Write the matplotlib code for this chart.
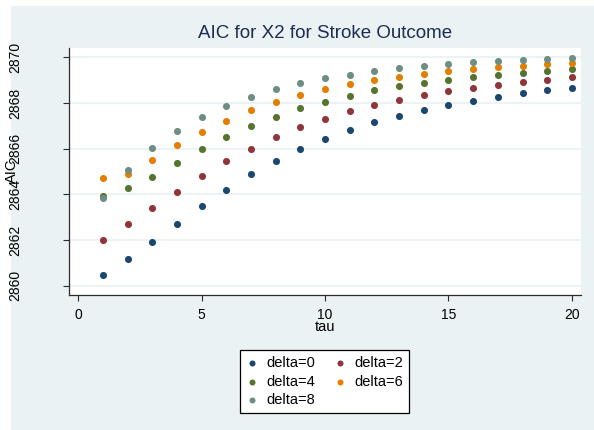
import matplotlib
matplotlib.use("Agg")
import matplotlib.pyplot as plt
from matplotlib.patches import Rectangle

plt.rcParams['font.family'] = ['Liberation Sans', 'DejaVu Sans']

# datos
tau = list(range(1, 21))
deltas = ['delta=0', 'delta=2', 'delta=4', 'delta=6', 'delta=8']
aic_d0 = [2860.47, 2861.18, 2861.91, 2862.71, 2863.49, 2864.20, 2864.88, 2865.46, 2866.00, 2866.44,
          2866.82, 2867.17, 2867.43, 2867.69, 2867.91, 2868.09, 2868.26, 2868.42, 2868.55, 2868.64]
aic_d2 = [2861.99, 2862.70, 2863.39, 2864.10, 2864.80, 2865.45, 2866.00, 2866.52, 2866.95, 2867.31,
          2867.65, 2867.91, 2868.13, 2868.34, 2868.51, 2868.66, 2868.80, 2868.90, 2869.02, 2869.12]
aic_d4 = [2863.91, 2864.26, 2864.77, 2865.37, 2865.97, 2866.51, 2866.99, 2867.40, 2867.77, 2868.06,
          2868.32, 2868.55, 2868.73, 2868.87, 2869.02, 2869.14, 2869.24, 2869.33, 2869.41, 2869.47]
aic_d6 = [2864.72, 2864.89, 2865.50, 2866.15, 2866.73, 2867.22, 2867.68, 2868.04, 2868.35, 2868.61,
          2868.83, 2869.01, 2869.15, 2869.27, 2869.40, 2869.49, 2869.56, 2869.63, 2869.70, 2869.76]
aic_d8 = [2863.85, 2865.08, 2866.03, 2866.79, 2867.37, 2867.87, 2868.26, 2868.60, 2868.86, 2869.09,
          2869.24, 2869.40, 2869.52, 2869.63, 2869.70, 2869.78, 2869.83, 2869.89, 2869.93, 2869.97]
series = [aic_d0, aic_d2, aic_d4, aic_d6, aic_d8]
colores = ['#1a476f', '#90353b', '#55752f', '#e37e00', '#6e8e84']
yticks = [2860, 2862, 2864, 2866, 2868, 2870]
xticks = [0, 5, 10, 15, 20]

fondo = '#eaf2f3'

fig = plt.figure(figsize=(5.94, 4.30), dpi=100, facecolor='white')
fig.patches.append(Rectangle((11 / 594, 0), 1 - 11 / 594, 1 - 6 / 430,
                             transform=fig.transFigure, facecolor=fondo,
                             edgecolor='none', zorder=-10))

ax = fig.add_axes([69 / 594, 1 - 294.7 / 430, 512 / 594, 247 / 430])
ax.set_zorder(2)
ax.set_facecolor('white')

handles = []
for vals, lab, c in zip(series, deltas, colores):
    h = ax.scatter(tau, vals, s=26, color=c, label=lab, zorder=3, linewidths=0)
    handles.append(h)

ax.set_xlim(-0.377, 20.37)
ax.set_ylim(2859.61, 2870.42)
ax.set_xticks(xticks)
ax.set_yticks(yticks)
ax.grid(axis='y', color=fondo, linewidth=1.3)
ax.set_axisbelow(True)

for s in ['top', 'right']:
    ax.spines[s].set_visible(False)
for s in ['left', 'bottom']:
    ax.spines[s].set_color('#2b2b2b')
    ax.spines[s].set_linewidth(0.9)

ax.tick_params(axis='x', length=4, width=0.8, color='#2b2b2b', pad=5.5, labelsize=10)
ax.tick_params(axis='y', length=4.5, width=0.8, color='#2b2b2b', pad=29.5, labelsize=10)
for t in ax.get_yticklabels():
    t.set_rotation(90)
    t.set_va('center')

ax.set_title('AIC for X2 for Stroke Outcome', fontsize=13.5, color='#1e2c50', pad=7)
ax.set_xlabel('tau', fontsize=10.5, va='center')
ax.xaxis.set_label_coords(0.5, -0.131)
ax.set_ylabel('AIC', fontsize=10.5, va='center')
ax.yaxis.set_label_coords(-0.111, 0.5)

# orden por filas como en la leyenda original
orden = [0, 2, 4, 1, 3]
leg = fig.legend([handles[i] for i in orden], [deltas[i] for i in orden],
                 loc='upper center', bbox_to_anchor=(324.5 / 594, 1 - 343 / 430),
                 ncol=2, fontsize=10.5, frameon=True, fancybox=False,
                 edgecolor='black', framealpha=1, handlelength=0.8,
                 handletextpad=0.6, columnspacing=1.3, labelspacing=0.3,
                 borderpad=0.4, markerscale=0.85)
leg.get_frame().set_linewidth(0.9)

fig.savefig('out.png', dpi=100, facecolor=fig.get_facecolor())
